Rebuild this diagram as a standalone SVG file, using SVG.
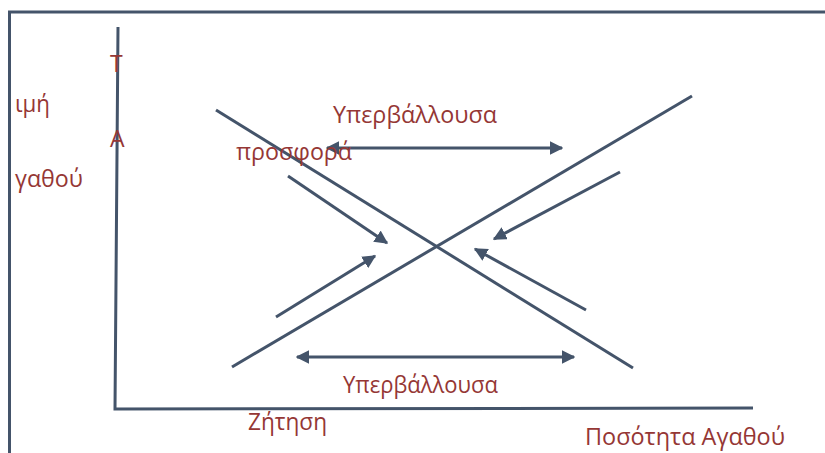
<svg xmlns="http://www.w3.org/2000/svg" width="825" height="453" viewBox="0 0 825 453">
<defs>
<style>
.ln{stroke:#44546A;stroke-width:3;fill:none}
.t{font-family:"Open Sans","Liberation Sans",sans-serif;font-size:23px;fill:#953735}
</style>
<marker id="ah" viewBox="0 0 10 10" refX="9" refY="5" markerWidth="4.5" markerHeight="4.5" orient="auto-start-reverse" markerUnits="strokeWidth">
<path d="M0,0 L10,5 L0,10 z" fill="#44546A"/>
</marker>
</defs>
<rect width="825" height="453" fill="#fff"/>
<g id="frame">
<path class="ln" d="M9.5,460 L9.5,12 L830,12"/>
</g>
<g id="axes">
<path class="ln" d="M118,27 L115,409 L753,408"/>
</g>
<g id="curves">
<line id="demand" class="ln" x1="216" y1="110" x2="633" y2="368"/>
<line id="supply" class="ln" x1="232" y1="367" x2="692" y2="96"/>
</g>
<g id="connectors">
<line class="ln" x1="327" y1="148" x2="562" y2="148" marker-start="url(#ah)" marker-end="url(#ah)"/>
<line class="ln" x1="297" y1="357" x2="574" y2="357" marker-start="url(#ah)" marker-end="url(#ah)"/>
<line class="ln" x1="288" y1="176" x2="387" y2="243" marker-end="url(#ah)"/>
<line class="ln" x1="276" y1="317" x2="375" y2="256" marker-end="url(#ah)"/>
<line class="ln" x1="620" y1="172" x2="494" y2="239" marker-end="url(#ah)"/>
<line class="ln" x1="586" y1="310" x2="475" y2="249" marker-end="url(#ah)"/>
</g>
<g id="labels">
<text class="t" x="110" y="72">Τ</text>
<text class="t" x="110" y="147">Α</text>
<text class="t" x="15" y="112" textLength="35" lengthAdjust="spacingAndGlyphs">ιμή</text>
<text class="t" x="15" y="187" textLength="68" lengthAdjust="spacingAndGlyphs">γαθού</text>
<text class="t" x="333" y="123" textLength="164" lengthAdjust="spacingAndGlyphs">Υπερβάλλουσα</text>
<text class="t" x="236" y="160" textLength="116" lengthAdjust="spacingAndGlyphs">προσφορά</text>
<text class="t" x="343" y="393" textLength="155" lengthAdjust="spacingAndGlyphs">Υπερβάλλουσα</text>
<text class="t" x="248" y="430" textLength="79" lengthAdjust="spacingAndGlyphs">Ζήτηση</text>
<text class="t" x="585" y="445" textLength="200" lengthAdjust="spacingAndGlyphs">Ποσότητα Αγαθού</text>
</g>
</svg>
